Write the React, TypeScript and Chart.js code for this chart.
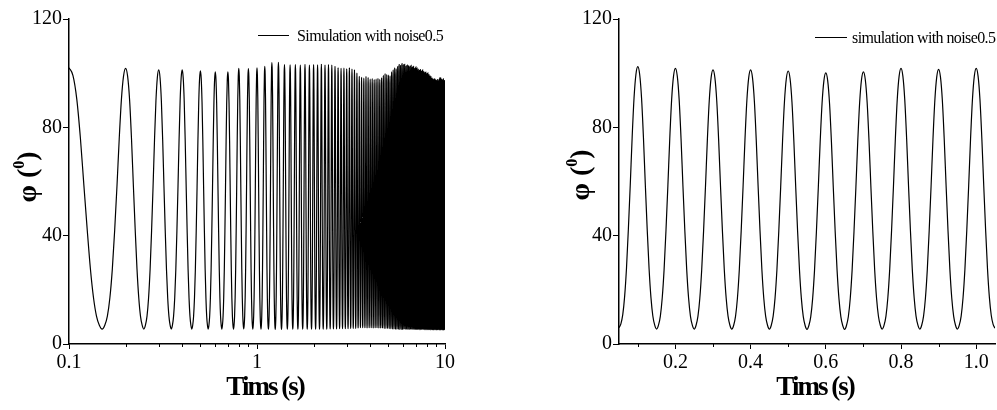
import React, { useEffect, useRef } from 'react';
import { Chart, registerables } from 'chart.js';

Chart.register(...registerables);

// ---------- data ----------
const LEFT_LABEL = 'Simulation with noise0.5';
const RIGHT_LABEL = 'simulation with noise0.5';
const X_TITLE = 'Tims (s)';
const Y_TITLE_MAIN = 'φ (';
const Y_TITLE_SUP = '0';
const Y_TITLE_END = ')';

// one half swing (peak -> trough), fraction of the swing at equal time steps
const SHAPE_HALF = [1, 0.97, 0.88, 0.73, 0.55, 0.38, 0.23, 0.12, 0.05, 0.015, 0];
const HALF_PERIOD = 0.05; // s between a peak and the next trough

// left panel: peaks at 0.1, 0.2, ... 10.0 s ; troughs in between
const LEFT_START = 0.1;
const leftPeaks = [
  102.0, 101.8, 101.2, 101.2, 100.9, 100.5, 100.5, 101.8, 101.7, 102.0,
  102.5, 103.9, 104.0, 103.2, 103.1, 103.2, 103.0, 103.3, 103.0, 103.2,
  103.1, 103.3, 103.0, 103.2, 103.0, 102.5, 102.0, 101.8, 101.9, 101.6,
  102.0, 101.5, 101.2, 100.0, 98.8, 98.5, 98.2, 98.8, 98.4, 97.8,
  98.0, 97.6, 97.8, 98.1, 97.7, 98.3, 99.2, 99.8, 99.5, 99.3,
  99.0, 100.5, 101.2, 102.0, 101.6, 102.4, 103.2, 102.8, 103.5, 103.1,
  103.3, 102.6, 103.0, 102.7, 102.4, 102.9, 102.2, 102.5, 101.8, 102.3,
  101.9, 101.4, 101.0, 101.3, 100.8, 101.2, 100.6, 100.2, 100.4, 99.8,
  100.1, 99.5, 99.0, 98.7, 98.2, 97.9, 97.6, 97.9, 97.5, 97.3,
  97.6, 97.2, 97.8, 98.4, 98.1, 97.6, 97.4, 97.9, 97.2, 97.5,
];
const leftTroughs = [
  5.5, 5.5, 5.5, 5.5, 5.5, 5.5, 5.5, 5.6, 5.5, 5.5,
  5.5, 5.4, 5.4, 5.5, 5.5, 5.5, 5.5, 5.5, 5.5, 5.5,
  5.5, 5.5, 5.5, 5.6, 5.6, 5.6, 5.7, 5.7, 5.7, 5.7,
  5.8, 5.8, 5.8, 5.9, 6.0, 6.0, 6.0, 5.9, 6.0, 6.0,
  5.9, 6.0, 6.0, 5.9, 5.9, 5.9, 5.8, 5.8, 5.8, 5.7,
  5.7, 5.6, 5.6, 5.5, 5.5, 5.5, 5.4, 5.4, 5.4, 5.5,
  5.5, 5.5, 5.4, 5.4, 5.5, 5.5, 5.4, 5.4, 5.4, 5.4,
  5.4, 5.4, 5.3, 5.3, 5.4, 5.4, 5.3, 5.3, 5.3, 5.3,
  5.3, 5.3, 5.2, 5.3, 5.3, 5.2, 5.3, 5.3, 5.3, 5.2,
  5.3, 5.3, 5.2, 5.2, 5.3, 5.3, 5.2, 5.2, 5.3,
];

// right panel: troughs at 0.05, 0.15, ... 1.05 s ; peaks at 0.1 ... 1.0 s
const RIGHT_START = 0.05;
const rightPeaks = [102.4, 101.8, 101.2, 101.2, 100.8, 100.1, 100.5, 101.8, 101.4, 101.8];
const rightTroughs = [6.0, 5.5, 5.5, 5.5, 5.5, 5.4, 5.4, 5.5, 5.5, 5.5, 5.8];

// axes
const Y_MIN = 0;
const Y_MAX = 120;
const Y_TICKS = [0, 40, 80, 120];
const LEFT_X_MIN = 0.1;
const LEFT_X_MAX = 10;
const LEFT_X_TICKS = [0.1, 1, 10];
const LEFT_X_LABELS = ['0.1', '1', '10'];
const LEFT_X_MINOR = [0.2, 0.3, 0.4, 0.5, 0.6, 0.7, 0.8, 0.9, 2, 3, 4, 5, 6, 7, 8, 9];
const RIGHT_X_MIN = 0.05;
const RIGHT_X_MAX = 1.05;
const RIGHT_X_TICKS = [0.2, 0.4, 0.6, 0.8, 1.0];
const RIGHT_X_LABELS = ['0.2', '0.4', '0.6', '0.8', '1.0'];
const RIGHT_X_MINOR = [0.1, 0.3, 0.5, 0.7, 0.9];

// ---------- helpers ----------
function interleave(first: number[], second: number[]): number[] {
  const out: number[] = [];
  for (let i = 0; i < first.length; i++) {
    out.push(first[i]);
    if (i < second.length) out.push(second[i]);
  }
  return out;
}

function buildWave(t0: number, extremes: number[]) {
  const pts: { x: number; y: number }[] = [];
  const n = SHAPE_HALF.length - 1;
  for (let h = 0; h < extremes.length - 1; h++) {
    const a = extremes[h];
    const b = extremes[h + 1];
    const lo = Math.min(a, b);
    const hi = Math.max(a, b);
    for (let j = h === 0 ? 0 : 1; j <= n; j++) {
      const frac = a > b ? SHAPE_HALF[j] : SHAPE_HALF[n - j];
      pts.push({ x: t0 + (h + j / n) * HALF_PERIOD, y: lo + (hi - lo) * frac });
    }
  }
  return pts;
}

const SERIF = '"Liberation Serif", "Times New Roman", serif';

const decoPlugin = {
  id: 'deco',
  afterDraw(chart: any, _args: any, o: any) {
    const ctx: CanvasRenderingContext2D = chart.ctx;
    const ca = chart.chartArea;
    const xs = chart.scales.x;
    ctx.save();
    ctx.strokeStyle = '#000';
    ctx.fillStyle = '#000';
    ctx.lineWidth = 1;
    // minor x ticks
    for (const v of o.xMinor) {
      const px = Math.round(xs.getPixelForValue(v)) + 0.5;
      ctx.beginPath();
      ctx.moveTo(px, ca.bottom);
      ctx.lineTo(px, ca.bottom + 3);
      ctx.stroke();
    }
    // legend
    const ly = Math.round(ca.top + o.legendDy) + 0.5;
    ctx.beginPath();
    ctx.moveTo(ca.right - o.lineFrom, ly);
    ctx.lineTo(ca.right - o.lineTo, ly);
    ctx.stroke();
    ctx.font = '16px ' + SERIF;
    (ctx as any).letterSpacing = '-0.6px';
    ctx.textAlign = 'left';
    ctx.textBaseline = 'middle';
    ctx.fillText(chart.data.datasets[0].label, ca.right - o.textFrom, ly + 1);
    // x title
    ctx.font = 'bold 27px ' + SERIF;
    (ctx as any).letterSpacing = '-2px';
    ctx.textAlign = 'center';
    ctx.textBaseline = 'alphabetic';
    ctx.fillText(X_TITLE, (ca.left + ca.right) / 2 + 8, o.xTitleY);
    // y title (rotated)
    (ctx as any).letterSpacing = '0px';
    ctx.translate(ca.left - o.yTitleDx, o.yTitleY);
    ctx.rotate(-Math.PI / 2);
    ctx.textAlign = 'left';
    const big = 'bold 28px ' + SERIF;
    const small = 'bold 16px ' + SERIF;
    ctx.font = big;
    const w1 = ctx.measureText(Y_TITLE_MAIN).width;
    const w3 = ctx.measureText(Y_TITLE_END).width;
    ctx.font = small;
    const w2 = ctx.measureText(Y_TITLE_SUP).width;
    let x = -(w1 + w2 + w3) / 2;
    ctx.font = big;
    ctx.fillText(Y_TITLE_MAIN, x, 0);
    x += w1;
    ctx.font = small;
    ctx.fillText(Y_TITLE_SUP, x, -12);
    x += w2;
    ctx.font = big;
    ctx.fillText(Y_TITLE_END, x, 0);
    ctx.restore();
  },
};

function makeConfig(
  label: string,
  data: { x: number; y: number }[],
  xType: 'linear' | 'logarithmic',
  xMin: number,
  xMax: number,
  xTicks: number[],
  xLabels: string[],
  yWidth: number,
  rightPad: number,
  deco: any
): any {
  return {
    type: 'line',
    data: {
      datasets: [
        {
          label,
          data,
          borderColor: '#000',
          borderWidth: 1.2,
          pointRadius: 0,
          fill: false,
          cubicInterpolationMode: 'monotone',
        },
      ],
    },
    options: {
      animation: false,
      responsive: false,
      parsing: false,
      normalized: true,
      devicePixelRatio: 1,
      layout: { padding: { left: 0, right: rightPad, top: 19, bottom: 0 } },
      plugins: {
        legend: { display: false },
        tooltip: { enabled: false },
        deco,
      },
      scales: {
        x: {
          type: xType,
          min: xMin,
          max: xMax,
          afterBuildTicks: (s: any) => {
            s.ticks = xTicks.map((v) => ({ value: v }));
          },
          afterFit: (s: any) => {
            s.height = 66;
          },
          ticks: {
            autoSkip: false,
            maxRotation: 0,
            padding: 2,
            color: '#000',
            font: { family: SERIF, size: 20 },
            callback: (_v: any, i: number) => xLabels[i],
          },
          grid: {
            display: true,
            drawOnChartArea: false,
            drawTicks: true,
            tickLength: 5,
            color: '#000',
            lineWidth: 1,
          },
          border: { display: true, color: '#000', width: 1.5 },
        },
        y: {
          type: 'linear',
          min: Y_MIN,
          max: Y_MAX,
          afterBuildTicks: (s: any) => {
            s.ticks = Y_TICKS.map((v) => ({ value: v }));
          },
          afterFit: (s: any) => {
            s.width = yWidth;
          },
          ticks: {
            padding: 1,
            color: '#000',
            font: { family: SERIF, size: 20 },
            callback: (v: any) => String(v),
          },
          grid: {
            display: true,
            drawOnChartArea: false,
            drawTicks: true,
            tickLength: 6,
            color: '#000',
            lineWidth: 1,
          },
          border: { display: true, color: '#000', width: 1.5 },
        },
      },
    },
    plugins: [decoPlugin],
  };
}

function ChartCanvas(props: { config: () => any; left: number; width: number }) {
  const ref = useRef<HTMLCanvasElement | null>(null);
  useEffect(() => {
    if (!ref.current) return;
    const chart = new Chart(ref.current, props.config());
    return () => chart.destroy();
  }, []);
  return (
    <canvas
      ref={ref}
      width={props.width}
      height={410}
      style={{ position: 'absolute', left: props.left, top: 0, width: props.width, height: 410 }}
    />
  );
}

export default function App() {
  const leftConfig = () =>
    makeConfig(
      LEFT_LABEL,
      buildWave(LEFT_START, interleave(leftPeaks, leftTroughs)),
      'logarithmic',
      LEFT_X_MIN,
      LEFT_X_MAX,
      LEFT_X_TICKS,
      LEFT_X_LABELS,
      69,
      15,
      { xMinor: LEFT_X_MINOR, legendDy: 16, lineFrom: 187, lineTo: 156, textFrom: 148, xTitleY: 395, yTitleDx: 33, yTitleY: 177 }
    );
  const rightConfig = () =>
    makeConfig(
      RIGHT_LABEL,
      buildWave(RIGHT_START, interleave(rightTroughs, rightPeaks)),
      'linear',
      RIGHT_X_MIN,
      RIGHT_X_MAX,
      RIGHT_X_TICKS,
      RIGHT_X_LABELS,
      79,
      2,
      { xMinor: RIGHT_X_MINOR, legendDy: 18, lineFrom: 180, lineTo: 148, textFrom: 143, xTitleY: 395, yTitleDx: 30, yTitleY: 175 }
    );
  return (
    <div style={{ position: 'absolute', left: 0, top: 0, width: 997, height: 410, background: '#fff' }}>
      <ChartCanvas config={leftConfig} left={0} width={460} />
      <ChartCanvas config={rightConfig} left={540} width={457} />
    </div>
  );
}
